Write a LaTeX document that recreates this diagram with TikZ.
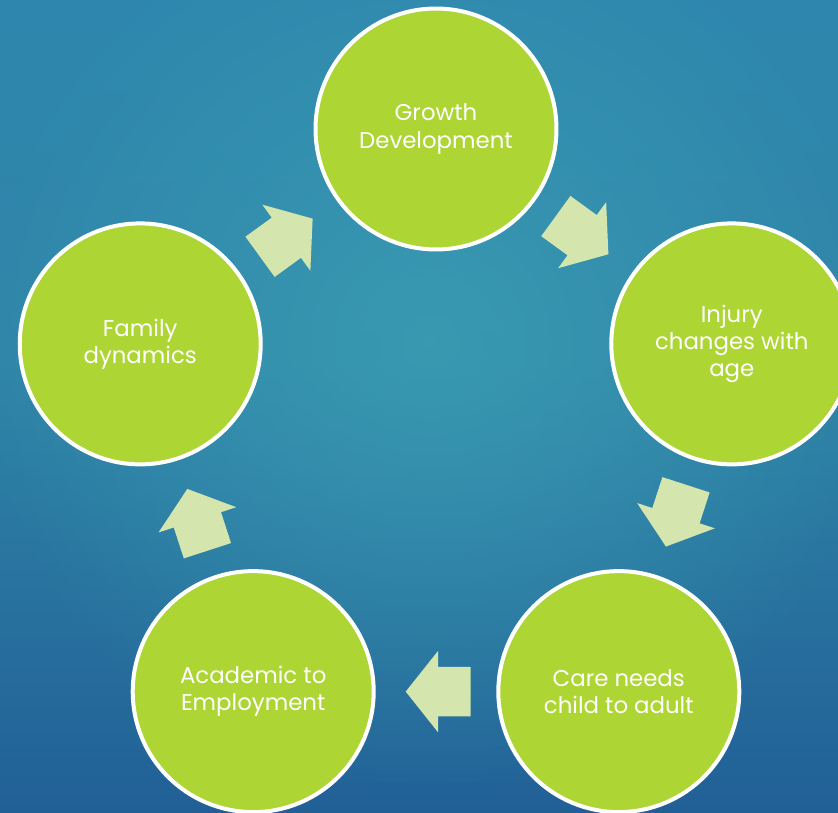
\documentclass[tikz,border=0pt]{standalone}
\usepackage{fontspec}
\setmainfont{Poppins}
\usetikzlibrary{shapes.arrows,calc,fadings}

\definecolor{stagegreen}{RGB}{173,213,52}
\definecolor{flowgreen}{RGB}{212,230,173}
\definecolor{bgtop}{RGB}{46,134,174}
\definecolor{bgmid}{RGB}{47,133,168}
\definecolor{bgbot}{RGB}{33,96,150}
\definecolor{bgglow}{RGB}{60,160,180}

\tikzfading[name=glow, inner color=transparent!25, outer color=transparent!100]

\tikzset{
  stage/.style={circle, draw=white, line width=0.08cm, fill=stagegreen,
    minimum size=4.82cm, text=white, align=center,
    font=\fontsize{13}{15.5}\selectfont},
  flow/.style={single arrow, fill=flowgreen, inner xsep=0pt, inner ysep=0.49cm,
    minimum height=1.3cm,
    single arrow head extend=0.32cm, single arrow tip angle=103}
}

\begin{document}
\begin{tikzpicture}[x=0.02cm, y=0.02cm]
    \clip (0,0) rectangle (838,812);
    % backdrop, darker towards the bottom with a soft light patch in the middle
    \shade[bottom color=bgbot, top color=bgmid] (0,0) rectangle (838,450);
    \shade[bottom color=bgmid, top color=bgtop] (0,450) rectangle (838,812);
    \fill[bgglow, path fading=glow] (430,470) circle (460);

    \coordinate (hub) at (436,372);

    % the five stages, clockwise from the top
    \node (grow) [stage] at ([shift={(90:311)}]hub) {Growth\\Development};
    \node (inj)  [stage] at ([shift={(18:311)}]hub) {Injury\\changes with\\age};
    \node (care) [stage] at ([shift={(-54:311)}]hub) {Care needs\\child to adult};
    \node (acad) [stage] at ([shift={(-126:311)}]hub) {Academic to\\Employment};
    \node (fam)  [stage] at ([shift={(162:311)}]hub) {Family\\dynamics};

    % block arrows between neighbours (a bit back from the midpoint)
    \node (f1) [flow, rotate=36]   at ($(fam)!0.467!(grow)$) {};
    \node (f2) [flow, rotate=-36]  at ($(grow)!0.467!(inj)$) {};
    \node (f3) [flow, rotate=-108] at ($(inj)!0.467!(care)$) {};
    \node (f4) [flow, rotate=180]  at ($(care)!0.467!(acad)$) {};
    \node (f5) [flow, rotate=108]  at ($(acad)!0.467!(fam)$) {};
\end{tikzpicture}
\end{document}
